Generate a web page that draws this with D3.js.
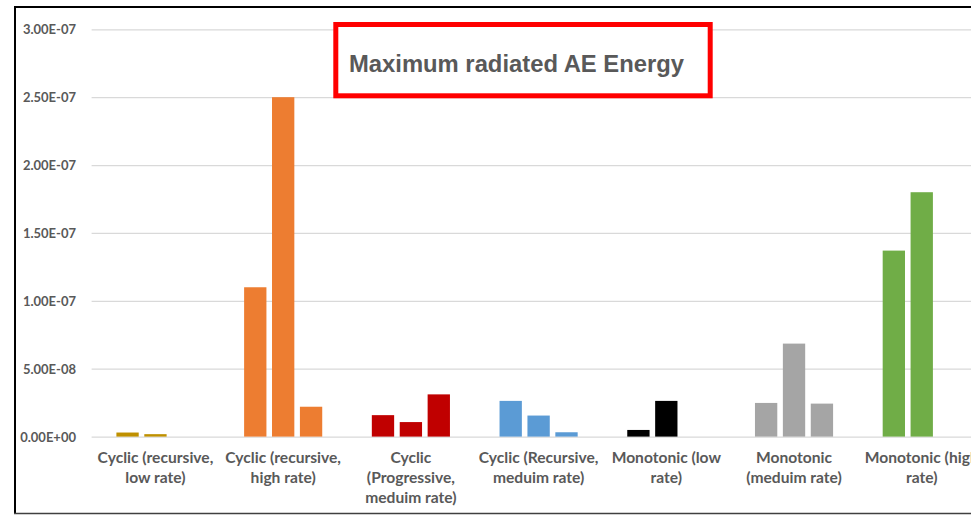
<!DOCTYPE html>
<html>
<head>
<meta charset="utf-8">
<script src="https://cdn.jsdelivr.net/npm/d3@7"></script>
<style>
  html, body { margin: 0; padding: 0; background: #fff; }
  svg { display: block; }
</style>
</head>
<body>
<svg id="chart" width="971" height="515"></svg>
<script>
// ---- data ----
const categories = [
  "Cyclic (recursive, low rate)",
  "Cyclic (recursive, high rate)",
  "Cyclic (Progressive, meduim rate)",
  "Cyclic (Recursive, meduim rate)",
  "Monotonic (low rate)",
  "Monotonic (meduim rate)",
  "Monotonic (high rate)"
];
const categoryLines = [
  ["Cyclic (recursive,", "low rate)"],
  ["Cyclic (recursive,", "high rate)"],
  ["Cyclic", "(Progressive,", "meduim rate)"],
  ["Cyclic (Recursive,", "meduim rate)"],
  ["Monotonic (low", "rate)"],
  ["Monotonic", "(meduim rate)"],
  ["Monotonic (high", "rate)"]
];
const series1 = [3.0e-9, 1.10e-7, 1.58e-8, 2.63e-8, 4.9e-9, 2.48e-8, 1.37e-7];
const series2 = [1.8e-9, 2.50e-7, 1.07e-8, 1.55e-8, 2.63e-8, 6.85e-8, 1.80e-7];
const series3 = [null, 2.2e-8, 3.11e-8, 3.2e-9, null, 2.43e-8, null];
const categoryColors = ["#BF9000", "#ED7D31", "#C00000", "#5B9BD5", "#000000", "#A5A5A5", "#70AD47"];
const tickValues = [0, 5e-8, 1e-7, 1.5e-7, 2e-7, 2.5e-7, 3e-7];
const tickLabels = ["0.00E+00", "5.00E-08", "1.00E-07", "1.50E-07", "2.00E-07", "2.50E-07", "3.00E-07"];
const title = "Maximum radiated AE Energy";

// ---- layout ----
const svg = d3.select("#chart");
const plotLeft = 91.6, plotRight = 985.6, plotTop = 29.3, plotBottom = 436.6;
const textColor = "#595959";
const font = "Lato, 'Open Sans', sans-serif";

const x = d3.scaleBand().domain(categories).range([plotLeft, plotRight]).padding(0);
const groupWidth = 83.7;
const xs = d3.scaleBand().domain([0, 1, 2]).range([0, groupWidth]).paddingInner(0.2).paddingOuter(0.1);
const y = d3.scaleLinear().domain([0, 3e-7]).range([plotBottom, plotTop]);

// gridlines via axis
const grid = svg.append("g").attr("transform", `translate(${plotLeft},0)`)
  .call(d3.axisRight(y).tickValues(tickValues).tickSize(plotRight - plotLeft).tickFormat(""));
grid.select(".domain").remove();
grid.selectAll("line").attr("stroke", "#D9D9D9").attr("stroke-width", 1.2);

// y labels
const yAxis = svg.append("g").attr("transform", `translate(76,0)`)
  .call(d3.axisLeft(y).tickValues(tickValues).tickSize(0).tickPadding(0)
    .tickFormat((d, i) => tickLabels[i]));
yAxis.select(".domain").remove();
yAxis.selectAll("text")
  .attr("fill", textColor).attr("font-family", font).attr("font-weight", "bold")
  .attr("font-size", "13px").attr("dy", "0.36em");

// bars
const seriesList = [series1, series2, series3];
const barData = [];
categories.forEach((c, ci) => {
  seriesList.forEach((s, si) => {
    if (s[ci] != null) barData.push({ c, ci, si, v: s[ci] });
  });
});
svg.append("g").selectAll("rect").data(barData).join("rect")
  .attr("x", d => x(d.c) + (x.bandwidth() - groupWidth) / 2 + xs(d.si))
  .attr("width", xs.bandwidth())
  .attr("y", d => y(d.v))
  .attr("height", d => y(0) - y(d.v))
  .attr("fill", d => categoryColors[d.ci]);

// category labels
const xAxis = svg.append("g").attr("transform", `translate(0,${plotBottom})`)
  .call(d3.axisBottom(x).tickSize(0).tickFormat(""));
xAxis.select(".domain").remove();
xAxis.selectAll(".tick").each(function(d, i) {
  const t = d3.select(this).append("text")
    .attr("fill", textColor).attr("font-family", font).attr("font-weight", "bold")
    .attr("font-size", "15.6px").attr("text-anchor", "middle");
  categoryLines[i].forEach((line, li) => {
    t.append("tspan").attr("x", 0).attr("y", 26.7 + li * 20).text(line);
  });
});

// title box
svg.append("rect").attr("x", 335.8).attr("y", 24.5).attr("width", 374.4).attr("height", 71.3)
  .attr("fill", "#fff").attr("stroke", "#FF0000").attr("stroke-width", 5);
svg.append("text").attr("x", 349).attr("y", 71.5)
  .attr("fill", textColor).attr("font-family", "'Liberation Sans', Arial, sans-serif")
  .attr("font-weight", "bold").attr("font-size", "23.8px").text(title);

// frame
svg.append("line").attr("x1", 15).attr("x2", 15).attr("y1", 6).attr("y2", 514)
  .attr("stroke", "#000").attr("stroke-width", 2);
svg.append("line").attr("x1", 14).attr("x2", 971).attr("y1", 7).attr("y2", 7)
  .attr("stroke", "#000").attr("stroke-width", 2);
svg.append("line").attr("x1", 14).attr("x2", 971).attr("y1", 513.5).attr("y2", 513.5)
  .attr("stroke", "#404040").attr("stroke-width", 1.5);
</script>
</body>
</html>
